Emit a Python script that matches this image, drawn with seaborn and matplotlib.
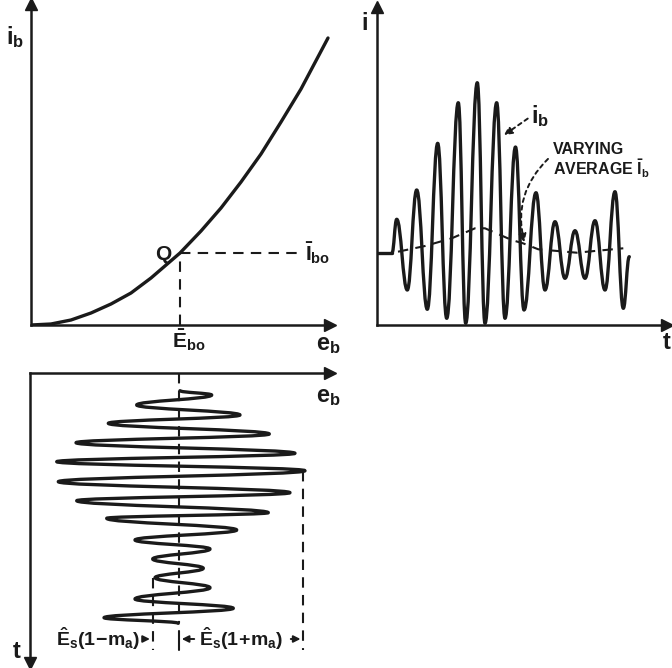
import matplotlib
matplotlib.use("Agg")
import matplotlib.pyplot as plt
import seaborn as sns
from matplotlib.path import Path
from matplotlib.patches import PathPatch

sns.set_theme(style="white")
FONT = "Liberation Sans"
plt.rcParams["font.family"] = [FONT, "DejaVu Sans"]
plt.rcParams["font.weight"] = "bold"
plt.rcParams["text.color"] = "k"
plt.rcParams["mathtext.fontset"] = "custom"
plt.rcParams["mathtext.rm"] = FONT + ":bold"
plt.rcParams["mathtext.it"] = FONT + ":bold"
plt.rcParams["mathtext.bf"] = FONT + ":bold"
plt.rcParams["mathtext.default"] = "rm"

# --- data ---
# panel 1: i_b vs e_b characteristic
curve_eb = [0, 20, 40, 60, 80, 100, 120, 149, 170, 190, 210, 230, 250, 270, 297]
curve_ib = [0, 1, 5, 12, 21, 32, 47, 72, 94, 117, 143, 171, 203, 236, 287]
q_eb, q_ib = 149, 72
ibo_end = 269

# panel 2: plate current vs time (flat start, then peaks/troughs)
flat_t = [0, 15]
flat_i = [72, 72]
wave_t = [15, 19.7, 30.3, 39.7, 50.3, 60.7, 69.7, 81.3, 88.7, 100.3, 108, 119.7, 128,
          138.5, 147, 159, 168, 178, 188, 198, 208, 218, 228, 238, 246.3, 252.3]
wave_i = [72, 105.7, 35, 135, 15.7, 181.7, 6.7, 222.3, 1.7, 242.3, 1.7, 222.3, 6.7,
          178, 15, 132.3, 35, 103.3, 46.7, 94.3, 46.7, 104.3, 35, 133.3, 16.7, 68.3]
avg_t = [21, 48, 74.7, 98, 108, 134.7, 146, 161.3, 199.7, 246.3]
avg_i = [73.3, 79, 86.7, 96.7, 96.7, 85, 81.7, 75.7, 72.3, 76.7]

# panel 3: grid voltage e_b vs time (time runs downward)
grid_eb = [149, 180.7, 105.7, 209, 77.3, 238.3, 45, 264, 25.7, 274, 27.3, 259, 45.7,
           237.3, 75.7, 205.7, 104, 179, 121.7, 172.3, 124, 179, 104, 202.3, 73, 147.3]
grid_t = [17.7, 22, 32, 42, 50.3, 61, 69.7, 80.3, 88.7, 97.7, 108.7, 119.7, 127.7,
          139.7, 145.3, 157, 167, 176, 186, 195.3, 204.7, 214.7, 226, 235.3, 244.7, 250.3]
ebo = 148
e_min, e_max = 121.7, 272.3

LW = 2.4
AX_LW = 1.8
DASH = (0, (5, 3.5))


def wave(ax, xs, ys, vertical=False, k=0.42):
    verts = [(xs[0], ys[0])]
    codes = [Path.MOVETO]
    for i in range(1, len(xs)):
        x0, y0, x1, y1 = xs[i - 1], ys[i - 1], xs[i], ys[i]
        if vertical:
            d = y1 - y0
            verts += [(x0, y0 + k * d), (x1, y1 - k * d), (x1, y1)]
        else:
            d = x1 - x0
            verts += [(x0 + k * d, y0), (x1 - k * d, y1), (x1, y1)]
        codes += [Path.CURVE4] * 3
    ax.add_patch(PathPatch(Path(verts, codes), fc="none", ec="k", lw=LW,
                           capstyle="round", joinstyle="round"))


def style(ax, spines):
    ax.set_xticks([])
    ax.set_yticks([])
    for s in ["left", "right", "top", "bottom"]:
        ax.spines[s].set_visible(s in spines)
        ax.spines[s].set_color("k")
        ax.spines[s].set_linewidth(AX_LW)


fig = plt.figure(figsize=(6.72, 6.68), dpi=100)
ax1 = fig.add_axes([31 / 672, 343 / 668, 299 / 672, 321 / 668])
ax2 = fig.add_axes([377 / 672, 343 / 668, 290 / 672, 318 / 668])
ax3 = fig.add_axes([30 / 672, 5 / 668, 300 / 672, 290 / 668])

# ---------- panel 1 ----------
sns.lineplot(x=curve_eb, y=curve_ib, ax=ax1, color="k", lw=LW, sort=False, estimator=None)
sns.lineplot(x=[q_eb, ibo_end], y=[q_ib, q_ib], ax=ax1, color="k", lw=1.5, linestyle=DASH)
sns.lineplot(x=[q_eb, q_eb], y=[0, q_ib], ax=ax1, color="k", lw=1.5, linestyle=DASH,
             sort=False, estimator=None)
ax1.set_xlim(0, 299)
ax1.set_ylim(0, 321)
style(ax1, ["left", "bottom"])
ax1.plot(1, 0, ">k", ms=8, transform=ax1.get_yaxis_transform(), clip_on=False)
ax1.plot(0, 1, "^k", ms=8, transform=ax1.get_xaxis_transform(), clip_on=False)
ax1.text(-16, 288, "$i_b$", fontsize=17, ha="center", va="center")
ax1.text(132, 70, "Q", fontsize=15, ha="center", va="center")
ax1.text(274, 72, r"$\bar{I}_{bo}$", fontsize=15, ha="left", va="center")
ax1.text(141, -2, r"$\bar{E}_{bo}$", fontsize=15, ha="left", va="top")
ax1.text(297, -8, "$e_b$", fontsize=17, ha="center", va="top")

# ---------- panel 2 ----------
sns.lineplot(x=flat_t, y=flat_i, ax=ax2, color="k", lw=LW)
wave(ax2, wave_t, wave_i)
sns.lineplot(x=avg_t, y=avg_i, ax=ax2, color="k", lw=1.5, linestyle=DASH,
             sort=False, estimator=None)
ax2.set_xlim(0, 290)
ax2.set_ylim(0, 318)
style(ax2, ["left", "bottom"])
ax2.plot(1, 0, ">k", ms=8, transform=ax2.get_yaxis_transform(), clip_on=False)
ax2.plot(0, 1, "^k", ms=8, transform=ax2.get_xaxis_transform(), clip_on=False)
ax2.text(-12, 302, "i", fontsize=17, ha="center", va="center")
ax2.text(290, -6, "t", fontsize=17, ha="center", va="top")
ax2.text(154, 209, "$i_b$", fontsize=17, ha="left", va="center")
ax2.annotate("", xy=(124.7, 188.3), xytext=(153, 208),
             arrowprops=dict(arrowstyle="-|>", color="k", lw=1.4, linestyle=(0, (2, 2)),
                             mutation_scale=12))
ax2.text(176, 175, "VARYING", fontsize=11.5, ha="left", va="center")
ax2.text(176, 156, r"AVERAGE $\bar{I}_b$", fontsize=11.5, ha="left", va="center")
ax2.annotate("", xy=(148, 80), xytext=(173, 168),
             arrowprops=dict(arrowstyle="-|>", color="k", lw=1.4, linestyle=(0, (2, 2)),
                             connectionstyle="arc3,rad=0.3", mutation_scale=12))

# ---------- panel 3 ----------
wave(ax3, grid_eb, grid_t, vertical=True)
sns.lineplot(x=[ebo, ebo], y=[0, 250], ax=ax3, color="k", lw=1.5, linestyle=DASH,
             sort=False, estimator=None)
sns.lineplot(x=[e_min, e_min], y=[204.7, 277], ax=ax3, color="k", lw=1.5, linestyle=DASH,
             sort=False, estimator=None)
sns.lineplot(x=[e_max, e_max], y=[97.7, 277], ax=ax3, color="k", lw=1.5, linestyle=DASH,
             sort=False, estimator=None)
sns.lineplot(x=[ebo, ebo], y=[258, 277], ax=ax3, color="k", lw=1.5, sort=False, estimator=None)
ax3.set_xlim(-1, 299)
ax3.set_ylim(290, 0)
style(ax3, ["left", "top"])
ax3.plot(1, 1, ">k", ms=8, transform=ax3.transAxes, clip_on=False)
ax3.plot(0, 0, "vk", ms=8, transform=ax3.transAxes, clip_on=False)
ax3.text(297, 12, "$e_b$", fontsize=17, ha="center", va="top")
ax3.text(-14, 279, "t", fontsize=17, ha="center", va="center")
arr = dict(arrowstyle="-|>", color="k", lw=1.4, mutation_scale=10)
ax3.text(109, 266, r"$\hat{E}_s(1\!-\!m_a)$", fontsize=14, ha="right", va="center")
ax3.annotate("", xy=(e_min, 266), xytext=(109, 266), arrowprops=arr)
ax3.annotate("", xy=(ebo, 266), xytext=(166, 266), arrowprops=arr)
ax3.text(168, 266, r"$\hat{E}_s(1\!+\!m_a)$", fontsize=14, ha="left", va="center")
ax3.annotate("", xy=(e_max, 266), xytext=(257, 266), arrowprops=arr)

fig.savefig("out.png", dpi=100)
